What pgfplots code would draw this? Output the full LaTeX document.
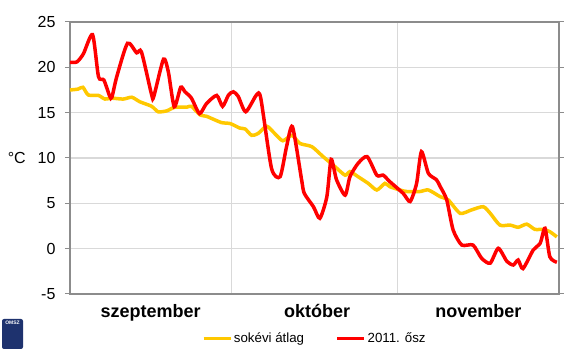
\documentclass[border=0pt]{standalone}
\usepackage{pgfplots}
\pgfplotsset{compat=1.18}
\usepackage{fontspec}
\setmainfont{Liberation Sans}
\definecolor{myred}{RGB}{255,0,0}
\definecolor{myyellow}{RGB}{255,200,0}
\definecolor{gridgray}{RGB}{217,217,217}
\definecolor{axisgray}{RGB}{140,140,140}
\definecolor{logoblue}{RGB}{30,50,110}
\begin{document}
\begin{tikzpicture}[x=1pt,y=1pt]
\useasboundingbox (0,0) rectangle (576,353);
\begin{axis}[
  at={(70pt,59pt)}, anchor=south west,
  scale only axis, width=489pt, height=272pt,
  xmin=0, xmax=91, ymin=-5, ymax=25,
  xtick={15,46,76},
  xticklabels={szeptember,október,november},
  xticklabel style={font=\fontsize{18}{20}\selectfont\bfseries, yshift=-2pt},
  minor xtick={30,61},
  xmajorgrids=false, xminorgrids=true,
  minor x tick style={draw=none},
  major x tick style={draw=none},
  ytick={-5,0,5,10,15,20,25},
  yticklabels={-5,0,5,10,15,20,25},
  yticklabel style={font=\fontsize{16}{18}\selectfont, xshift=-6pt},
  ymajorgrids=true,
  grid style={gridgray, line width=1.2pt},
  minor grid style={gridgray, line width=1.2pt},
  y tick style={axisgray, line width=1pt},
  tick align=outside, major tick length=5pt,
  axis line style={axisgray, line width=1.2pt},
  legend style={at={(0.5,-0.13)}, anchor=north, draw=none, fill=none,
    legend columns=2, font=\fontsize{13.3}{15}\selectfont,
    /tikz/every even column/.append style={column sep=30pt},
    nodes={inner sep=1.5pt}},
  legend image code/.code={\draw[#1] (0pt,0pt) -- (27pt,0pt);},
  clip=false,
]
\addplot[myyellow, line width=3.5pt, smooth, tension=0.4] coordinates {
(0,17.5) (1.5,17.6) (2.4,17.8) (3.4,16.95) (5.3,16.9) (6.5,16.5) (7.8,16.6)
(9.9,16.5) (11.5,16.7) (13.0,16.2) (15.2,15.7) (16.4,15.1) (18.0,15.2)
(19.5,15.6) (21.7,15.6) (22.6,15.7) (24.2,14.75) (25.4,14.6) (28.2,13.9)
(29.8,13.8) (31.6,13.3) (32.6,13.2) (33.8,12.5) (35.0,12.7) (36.6,13.5)
(38.1,12.7) (39.6,11.9) (41.3,12.5) (42.8,11.6) (45.0,11.25) (47.1,10.15)
(49.3,9.05) (51.2,8.1) (52.1,8.5) (53.6,7.94) (55.5,7.2) (57.1,6.47)
(58.6,7.2) (59.5,6.84) (61.4,6.47) (62.7,6.3) (65.1,6.3) (66.7,6.47)
(68.9,5.73) (70.4,5.37) (72.6,3.9) (74.7,4.27) (76.9,4.63) (78.2,3.9)
(80.0,2.6) (81.9,2.6) (83.4,2.36) (85.0,2.7) (86.5,2.13) (88.1,2.13)
(89.3,1.87) (90.6,1.3)
};
\addlegendentry{sokévi átlag}
\addplot[myred, line width=3.5pt, smooth, tension=0.4] coordinates {
(0,20.55) (1.3,20.6) (2.5,21.5) (4.2,23.6) (5.3,18.97) (6.3,18.6) (7.4,16.8)
(7.8,16.7) (8.7,18.97) (10.7,22.65) (12.4,21.6) (13.3,21.7) (15.2,16.95)
(15.6,16.8) (17.4,20.9) (18.3,19.5) (19.4,15.65) (20.6,17.8) (21.4,17.3)
(22.6,16.6) (24.1,14.9) (25.4,16.0) (27.3,16.9) (28.4,15.7) (29.5,16.95)
(30.4,17.3) (31.3,16.8) (32.7,15.1) (34.7,16.95) (35.5,16.6) (37.5,8.86)
(39.1,7.94) (40.3,11.25) (41.4,13.45) (43.1,7.6) (43.6,6.1) (45.3,4.63)
(46.5,3.35) (47.8,5.73) (48.6,9.85) (49.6,7.6) (51.2,5.9) (52.1,7.94)
(53.6,9.4) (55.3,10.15) (57.1,8.1) (58.3,8.1) (59.5,7.4) (62.0,6.1)
(63.3,5.2) (64.5,7.2) (65.4,10.7) (66.7,8.3) (68.2,7.6) (68.9,6.84)
(70.1,5.4) (71.3,2.06) (72.9,0.4) (75.0,0.4) (76.6,-1.06) (78.2,-1.6)
(79.7,0.04) (81.3,-1.4) (82.5,-1.8) (83.4,-1.25) (84.3,-2.2) (86.2,-0.15)
(87.5,0.6) (88.4,2.25) (89.3,-0.9) (90.6,-1.5)
};
\addlegendentry{2011. ősz}
\node[anchor=east, inner sep=0pt, font=\fontsize{16}{18}\selectfont] at (rel axis cs:0,0.5) [xshift=-44pt] {°C};
\end{axis}
\node[fill=logoblue, rounded corners=2pt, minimum width=21pt, minimum height=30pt, inner sep=0pt] at (12.5,19) {};
\node[text=white, font=\fontsize{5}{5}\selectfont\bfseries, inner sep=0pt] at (12.5,30) {OMSZ};
\end{tikzpicture}
\end{document}
